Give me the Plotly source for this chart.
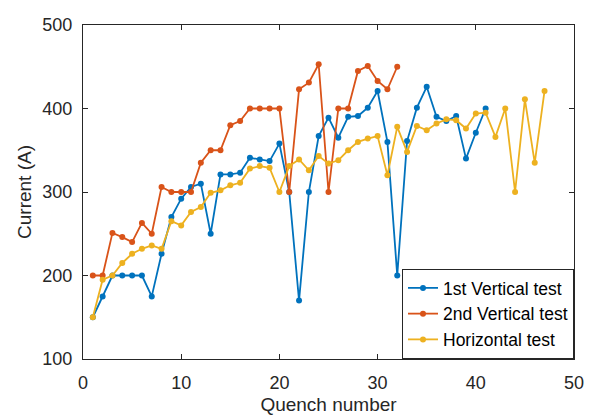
import plotly.graph_objects as go

# Quench current for each training quench
vert1_current = [150, 175, 200, 200, 200, 200, 175, 226, 270, 292,
                 306, 310, 250, 321, 321, 323, 341, 339, 337, 358,
                 300, 170, 300, 367, 389, 365, 390, 391, 401, 421,
                 360, 200, 361, 401, 426, 390, 385, 391, 340, 371,
                 400]
vert2_current = [200, 200, 251, 246, 240, 263, 250, 306, 300, 300,
                 300, 335, 350, 350, 380, 385, 400, 400, 400, 400,
                 300, 423, 431, 453, 300, 400, 400, 445, 451, 433,
                 423, 450]
horiz_current = [150, 195, 200, 215, 226, 232, 236, 232, 265, 260,
                 276, 282, 299, 302, 308, 311, 328, 331, 329, 300,
                 331, 339, 326, 343, 334, 338, 350, 360, 364, 367,
                 320, 378, 348, 379, 374, 382, 387, 386, 376, 394,
                 395, 366, 400, 300, 411, 335, 421]

series = [
    ("1st Vertical test", vert1_current, "#0072BD"),
    ("2nd Vertical test", vert2_current, "#D95319"),
    ("Horizontal test", horiz_current, "#EDB120"),
]

FONT = "Liberation Sans, Arial, sans-serif"
AXIS_COLOR = "#262626"

fig = go.Figure()
for name, values, color in series:
    fig.add_trace(go.Scatter(
        x=list(range(1, len(values) + 1)),
        y=values,
        mode="lines+markers",
        name=name,
        line=dict(color=color, width=1.8),
        marker=dict(color=color, size=6),
    ))

axis_common = dict(
    showgrid=False,
    zeroline=False,
    showline=True,
    linecolor=AXIS_COLOR,
    linewidth=1,
    mirror="ticks",
    ticks="inside",
    ticklen=5,
    tickcolor=AXIS_COLOR,
    tickfont=dict(family=FONT, size=18, color=AXIS_COLOR),
)

fig.update_xaxes(
    range=[0, 50], dtick=10, tick0=0,
    title=dict(text="Quench number", font=dict(family=FONT, size=19, color=AXIS_COLOR), standoff=6),
    ticklabelstandoff=7,
    **axis_common,
)
fig.update_yaxes(
    range=[100, 500], dtick=100, tick0=100,
    title=dict(text="Current (A)", font=dict(family=FONT, size=19, color=AXIS_COLOR), standoff=5),
    ticklabelstandoff=6,
    **axis_common,
)

fig.update_layout(
    width=595, height=419,
    margin=dict(l=83, r=21, t=25, b=60, autoexpand=False),
    paper_bgcolor="white",
    plot_bgcolor="white",
    font=dict(family=FONT, color=AXIS_COLOR),
    legend=dict(
        x=1, y=0, xanchor="right", yanchor="bottom",
        bgcolor="white", bordercolor=AXIS_COLOR, borderwidth=1,
        font=dict(family=FONT, size=17.5, color="black"),
        tracegroupgap=0,
    ),
)

fig.write_html("out.html")
